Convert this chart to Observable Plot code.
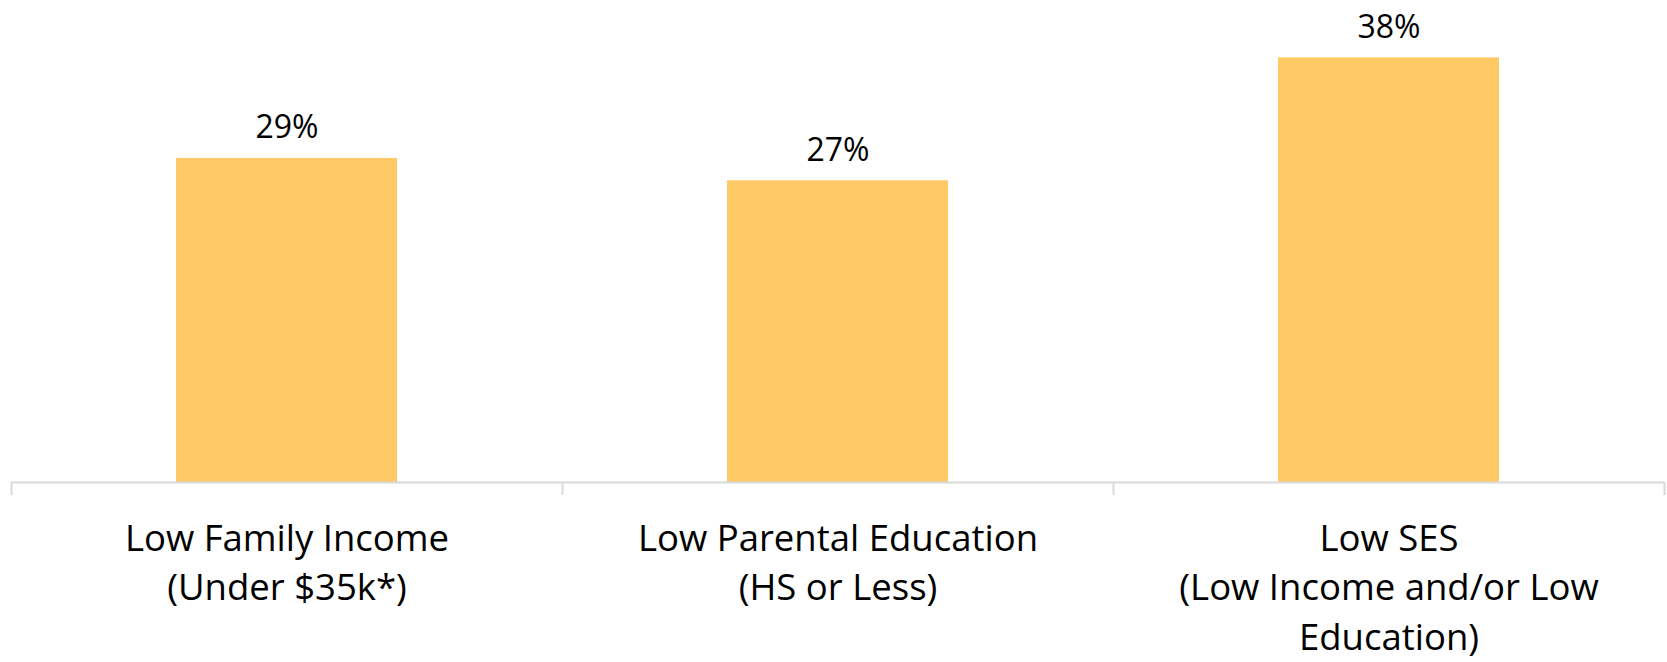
<!DOCTYPE html>
<html>
<head>
<meta charset="utf-8">
<script src="https://cdn.jsdelivr.net/npm/d3@7"></script>
<script src="https://cdn.jsdelivr.net/npm/@observablehq/plot@0.6"></script>
<style>
  html, body { margin: 0; padding: 0; background: #ffffff; }
  #chart svg { display: block; }
</style>
</head>
<body>
<div id="chart"></div>
<script>
const categories = ["Low Family Income", "Low Parental Education", "Low SES"];
const categoryLabels = [
  "Low Family Income\n(Under $35k*)",
  "Low Parental Education\n(HS or Less)",
  "Low SES\n(Low Income and/or Low\nEducation)"
];
const values = [0.29, 0.27, 0.38];
const valueLabels = ["29%", "27%", "38%"];
const boundaryTicks = [0, 1, 2, 3];

const rows = categories.map((c, i) => ({
  category: c,
  index: i,
  value: values[i],
  label: categoryLabels[i],
  valueLabel: valueLabels[i]
}));

const chart = Plot.plot({
  width: 1667,
  height: 662,
  marginLeft: 11,
  marginRight: 3,
  marginTop: 35,
  marginBottom: 180,
  style: { fontFamily: "'Open Sans', sans-serif", background: "#ffffff", color: "#000000" },
  x: { type: "linear", domain: [0, 3], axis: null },
  y: { type: "linear", domain: [0, 0.4], axis: null },
  marks: [
    Plot.rectY(rows, {
      x1: d => d.index,
      x2: d => d.index + 1,
      y: "value",
      insetLeft: 165,
      insetRight: 165,
      fill: "#FFCA66"
    }),
    Plot.ruleY([0], { stroke: "#d9d9d9", strokeWidth: 2 }),
    Plot.axisX({
      ticks: boundaryTicks,
      tickSize: 13,
      tickFormat: () => "",
      stroke: "#d9d9d9",
      strokeWidth: 2,
      strokeOpacity: 1
    }),
    Plot.text(rows, {
      x: d => d.index + 0.5,
      y: "value",
      text: "valueLabel",
      lineAnchor: "bottom",
      dy: -20,
      fontSize: 32,
      fill: "#000000"
    }),
    Plot.text(rows, {
      x: d => d.index + 0.5,
      y: 0,
      text: "label",
      lineAnchor: "top",
      dy: 33,
      fontSize: 36.5,
      lineHeight: 1.36,
      fill: "#000000"
    })
  ]
});

document.getElementById("chart").appendChild(chart);
</script>
</body>
</html>
